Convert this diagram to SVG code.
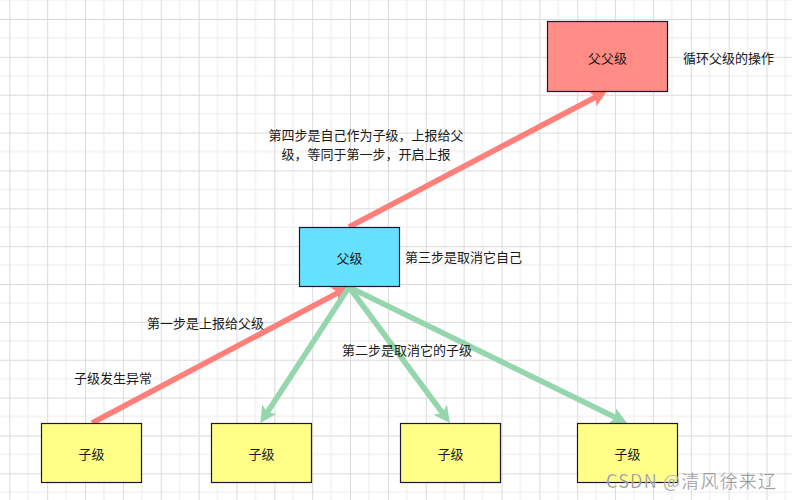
<svg xmlns="http://www.w3.org/2000/svg" width="792" height="500" viewBox="0 0 792 500">
<style>
.t{font-family:"Noto Sans CJK SC","Liberation Sans",sans-serif;font-size:13px;fill:#1a1a1a;dominant-baseline:central}
.box{stroke:#1a1a33;stroke-width:1.2}
.red{stroke:#FF7F7B;stroke-width:5.6;fill:none}
.grn{stroke:#96D6AE;stroke-width:5.6;fill:none}
</style>
<defs>
<pattern id="grid" patternUnits="userSpaceOnUse" x="9.3" y="19" width="37.86" height="37.86">
<path d="M18.93,0V37.86M0,18.93H37.86" stroke="#ececec" stroke-width="1" fill="none"/>
<path d="M0.5,0V37.86M0,0.5H37.86" stroke="#dadada" stroke-width="1" fill="none"/>
</pattern>
<marker id="ar" markerUnits="userSpaceOnUse" markerWidth="20" markerHeight="20" viewBox="0 -10 20 20" refX="6" refY="0" orient="auto">
<path d="M0,-8.5L16.5,0L0,8.5L4,0z" fill="#FF7F7B"/>
</marker>
<marker id="ag" markerUnits="userSpaceOnUse" markerWidth="20" markerHeight="20" viewBox="0 -10 20 20" refX="6" refY="0" orient="auto">
<path d="M0,-8.5L16.5,0L0,8.5L4,0z" fill="#96D6AE"/>
</marker>
</defs>
<rect width="792" height="500" fill="#fff"/>
<rect width="792" height="500" fill="url(#grid)"/>
<g id="connectors">
<line class="red" x1="92" y1="423" x2="339.7" y2="291.9" marker-end="url(#ar)"/>
<line class="red" x1="349" y1="227" x2="597.7" y2="96" marker-end="url(#ar)"/>
<line class="grn" x1="349" y1="287" x2="266.1" y2="414.2" marker-end="url(#ag)"/>
<line class="grn" x1="349" y1="287" x2="443.7" y2="414.6" marker-end="url(#ag)"/>
<line class="grn" x1="349" y1="287" x2="617.6" y2="418.4" marker-end="url(#ag)"/>
</g>
<g id="n-grandparent">
<rect class="box" x="547.5" y="21.5" width="120" height="70" fill="#FF8C85"/>
<text class="t" x="607.5" y="57" text-anchor="middle">父父级</text>
</g>
<g id="n-parent">
<rect class="box" x="299.5" y="227.5" width="100" height="59" fill="#66E0FF"/>
<text class="t" x="349.5" y="257" text-anchor="middle">父级</text>
</g>
<g id="n-child1">
<rect class="box" x="41.5" y="423.5" width="100" height="59" fill="#FFFF88"/>
<text class="t" x="91.5" y="453" text-anchor="middle">子级</text>
</g>
<g id="n-child2">
<rect class="box" x="211.5" y="423.5" width="100" height="59" fill="#FFFF88"/>
<text class="t" x="261.5" y="453" text-anchor="middle">子级</text>
</g>
<g id="n-child3">
<rect class="box" x="400.5" y="423.5" width="100" height="59" fill="#FFFF88"/>
<text class="t" x="450.5" y="453" text-anchor="middle">子级</text>
</g>
<g id="n-child4">
<rect class="box" x="577.5" y="423.5" width="100" height="59" fill="#FFFF88"/>
<text class="t" x="627.5" y="453" text-anchor="middle">子级</text>
</g>
<g id="labels">
<text class="t" x="683" y="57">循环父级的操作</text>
<text class="t" x="405" y="256">第三步是取消它自己</text>
<text class="t" x="366" y="134" text-anchor="middle">第四步是自己作为子级，上报给父</text>
<text class="t" x="366" y="153" text-anchor="middle">级，等同于第一步，开启上报</text>
<text class="t" x="147" y="322">第一步是上报给父级</text>
<text class="t" x="74" y="377">子级发生异常</text>
<text class="t" x="342" y="349">第二步是取消它的子级</text>
</g>
<text x="606" y="480" dominant-baseline="central" font-family="Noto Sans CJK SC,Liberation Sans,sans-serif" font-size="18" fill="#7a7a7a" fill-opacity="0.9" stroke="#ffffff" stroke-width="0.6" stroke-opacity="0.6" textLength="170">CSDN @清风徐来辽</text>
</svg>
